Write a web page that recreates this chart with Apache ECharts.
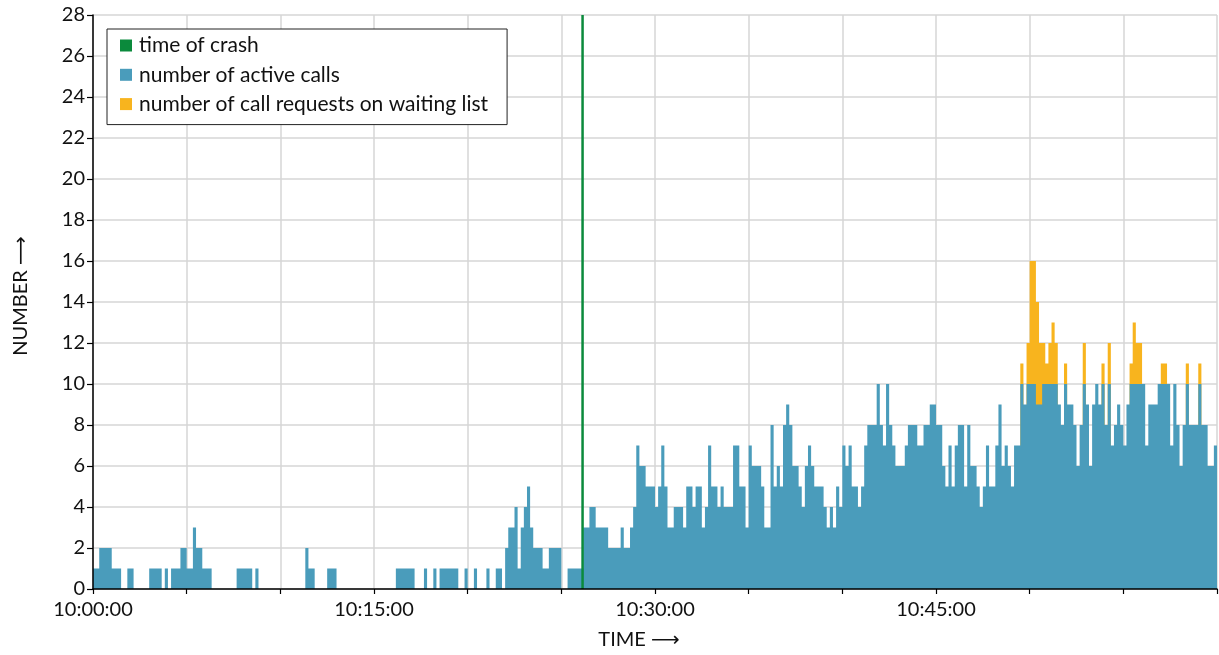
<!DOCTYPE html>
<html><head><meta charset="utf-8">
<script src="https://cdn.jsdelivr.net/npm/echarts@6/dist/echarts.min.js"></script>
<style>html,body{margin:0;padding:0;background:#fff}#chart{width:1219px;height:655px}</style>
</head><body><div id="chart"></div>
<script>
// time bins of 10 seconds, starting 10:00:00
const binSeconds = 10;
const xTickLabels = ['10:00:00', '10:15:00', '10:30:00', '10:45:00'];
const crashTime = '10:26:08';
const yMax = 28;

// number of active calls, one value per 10 s bin, per quarter hour
const active1000 = [
  1,1,2,2,2,2,1,1,1,0, 0,1,1,0,0,0,0,0,1,1, 1,1,0,1,0,1,1,1,2,2,
  1,1,3,2,2,1,1,1,0,0, 0,0,0,0,0,0,1,1,1,1, 1,0,1,0,0,0,0,0,0,0,
  0,0,0,0,0,0,0,0,2,1, 1,0,0,0,0,1,1,1,0,0, 0,0,0,0,0,0,0,0,0,0
];
const active1015 = [
  0,0,0,0,0,0,0,1,1,1, 1,1,1,0,0,0,1,0,0,1, 0,1,1,1,1,1,1,0,0,1,
  0,0,1,0,0,0,1,0,0,1, 1,0,2,3,3,4,1,3,4,5, 3,2,2,2,1,1,2,2,2,2,
  0,0,1,1,1,1,1,3,3,4, 4,3,3,3,3,2,2,2,2,3, 2,2,3,4,7,6,6,5,5,5
];
const active1030 = [
  4,5,7,5,3,3,4,4,4,3, 5,5,4,5,5,3,4,7,5,5, 4,5,4,4,4,7,7,5,5,3,
  7,6,6,6,5,3,3,8,5,6, 5,8,9,8,6,6,5,4,6,7, 6,5,5,5,4,3,4,3,5,4,
  7,6,7,5,5,4,5,7,8,8, 8,10,8,7,10,8,7,6,6,6, 7,8,8,8,7,7,8,8,9,9
];
const active1045 = [
  8,8,6,5,7,5,7,8,8,5, 8,6,6,5,4,5,7,5,5,7, 9,6,7,6,5,7,7,10,9,10,
  10,10,9,9,10,10,10,10,10,9, 8,10,9,9,8,6,8,10,9,6, 9,10,9,10,8,10,7,8,9,8,
  7,9,10,10,10,10,10,7,9,9, 9,10,10,10,10,7,10,8,6,8, 10,8,8,8,10,8,8,6,6,7
];

// number of call requests on waiting list, same bins
const waiting1000 = [
  0,0,0,0,0,0,0,0,0,0, 0,0,0,0,0,0,0,0,0,0, 0,0,0,0,0,0,0,0,0,0,
  0,0,0,0,0,0,0,0,0,0, 0,0,0,0,0,0,0,0,0,0, 0,0,0,0,0,0,0,0,0,0,
  0,0,0,0,0,0,0,0,0,0, 0,0,0,0,0,0,0,0,0,0, 0,0,0,0,0,0,0,0,0,0
];
const waiting1015 = [
  0,0,0,0,0,0,0,0,0,0, 0,0,0,0,0,0,0,0,0,0, 0,0,0,0,0,0,0,0,0,0,
  0,0,0,0,0,0,0,0,0,0, 0,0,0,0,0,0,0,0,0,0, 0,0,0,0,0,0,0,0,0,0,
  0,0,0,0,0,0,0,0,0,0, 0,0,0,0,0,0,0,0,0,0, 0,0,0,0,0,0,0,0,0,0
];
const waiting1030 = [
  0,0,0,0,0,0,0,0,0,0, 0,0,0,0,0,0,0,0,0,0, 0,0,0,0,0,0,0,0,0,0,
  0,0,0,0,0,0,0,0,0,0, 0,0,0,0,0,0,0,0,0,0, 0,0,0,0,0,0,0,0,0,0,
  0,0,0,0,0,0,0,0,0,0, 0,0,0,0,0,0,0,0,0,0, 0,0,0,0,0,0,0,0,0,0
];
const waiting1045 = [
  0,0,0,0,0,0,0,0,0,0, 0,0,0,0,0,0,0,0,0,0, 0,0,0,0,0,0,0,1,0,2,
  6,6,5,3,2,1,2,3,2,0, 0,1,0,0,0,0,0,2,0,0, 0,0,0,1,0,2,0,0,0,0,
  0,0,1,3,2,2,0,0,0,0, 0,0,1,1,0,0,0,0,0,0, 1,0,0,0,1,0,0,0,0,0
];

const active = active1000.concat(active1015, active1030, active1045);
const waiting = waiting1000.concat(waiting1015, waiting1030, waiting1045);
// waiting requests sit on top of the active calls: top edge = active + waiting
const waitingTop = waiting.map((w, i) => w > 0 ? active[i] + w : 0);

function toSeries(vals) {
  const out = vals.map((v, i) => [i * binSeconds, v]);
  out.push([vals.length * binSeconds, vals[vals.length - 1]]);
  return out;
}
function toSec(s) {
  const p = s.split(':').map(Number);
  return (p[0] - 10) * 3600 + p[1] * 60 + p[2];
}
const crashSec = toSec(crashTime);
const totalSec = active.length * binSeconds;

const FONT = "Lato, 'DejaVu Sans', sans-serif";
const BLUE = '#4a9cbb', ORANGE = '#f8b41e', GREEN = '#0b8a3c';
const GRID_LINE = {show: true, lineStyle: {color: '#d6d6d6', width: 1.5}};
const AXIS_LINE = {show: true, lineStyle: {color: '#000', width: 1.5}};

const chart = echarts.init(document.getElementById('chart'), null, {renderer: 'canvas'});
chart.setOption({
  animation: false,
  textStyle: {fontFamily: FONT, color: '#111'},
  grid: {left: 93, right: 2, top: 15, bottom: 66, containLabel: false, outerBoundsMode: 'none'},
  legend: {
    left: 107, top: 29, orient: 'vertical',
    data: ['time of crash', 'number of active calls', 'number of call requests on waiting list'],
    icon: 'rect', itemWidth: 12, itemHeight: 12, itemGap: 7.3,
    padding: [5.5, 19, 9.5, 13],
    backgroundColor: '#fff', borderColor: '#222', borderWidth: 1,
    textStyle: {fontFamily: FONT, fontSize: 21, color: '#111', lineHeight: 22, padding: [0, 0, 0, 2]},
    selectedMode: false
  },
  xAxis: [
    {
      type: 'value', min: 0, max: totalSec, interval: 300, position: 'bottom',
      name: 'TIME \u27F6', nameLocation: 'middle', nameGap: 41,
      nameTextStyle: {fontFamily: FONT, fontSize: 20, color: '#111', padding: [0, 32, 0, 0]},
      axisLine: {show: false}, axisTick: {show: false},
      axisLabel: {
        fontFamily: FONT, fontSize: 20, color: '#111', margin: 11,
        formatter: v => (v % 900 === 0 && v / 900 < xTickLabels.length) ? xTickLabels[v / 900] : ''
      },
      splitLine: GRID_LINE
    },
    {
      type: 'value', min: 0, max: totalSec, interval: 300, position: 'bottom', z: 10,
      axisLine: AXIS_LINE,
      axisTick: {show: true, length: 5, lineStyle: {color: '#000', width: 1.2}},
      axisLabel: {show: false}, splitLine: {show: false}
    }
  ],
  yAxis: [
    {
      type: 'value', min: 0, max: yMax, interval: 2, position: 'left',
      name: 'NUMBER \u27F6', nameLocation: 'middle', nameGap: 62, nameRotate: 90,
      nameTextStyle: {fontFamily: FONT, fontSize: 20, color: '#111', padding: [0, 0, 0, 12]},
      axisLine: {show: false}, axisTick: {show: false},
      axisLabel: {fontFamily: FONT, fontSize: 20, color: '#111', margin: 8},
      splitLine: GRID_LINE
    },
    {
      type: 'value', min: 0, max: yMax, interval: 2, position: 'left', z: 10,
      axisLine: AXIS_LINE,
      axisTick: {show: true, length: 6, lineStyle: {color: '#000', width: 1.2}},
      axisLabel: {show: false}, splitLine: {show: false}
    }
  ],
  series: [
    {
      name: 'number of call requests on waiting list', type: 'line', step: 'end',
      data: toSeries(waitingTop), symbol: 'none', showSymbol: false,
      lineStyle: {width: 0}, itemStyle: {color: ORANGE},
      areaStyle: {color: ORANGE, opacity: 1}, z: 2, silent: true
    },
    {
      name: 'number of active calls', type: 'line', step: 'end',
      data: toSeries(active), symbol: 'none', showSymbol: false,
      lineStyle: {width: 0}, itemStyle: {color: BLUE},
      areaStyle: {color: BLUE, opacity: 1}, z: 3, silent: true
    },
    {
      name: 'time of crash', type: 'line',
      data: [[crashSec, 0], [crashSec, yMax]], symbol: 'none', showSymbol: false,
      lineStyle: {color: GREEN, width: 2.5}, itemStyle: {color: GREEN}, z: 4, silent: true
    }
  ]
});
</script></body></html>
